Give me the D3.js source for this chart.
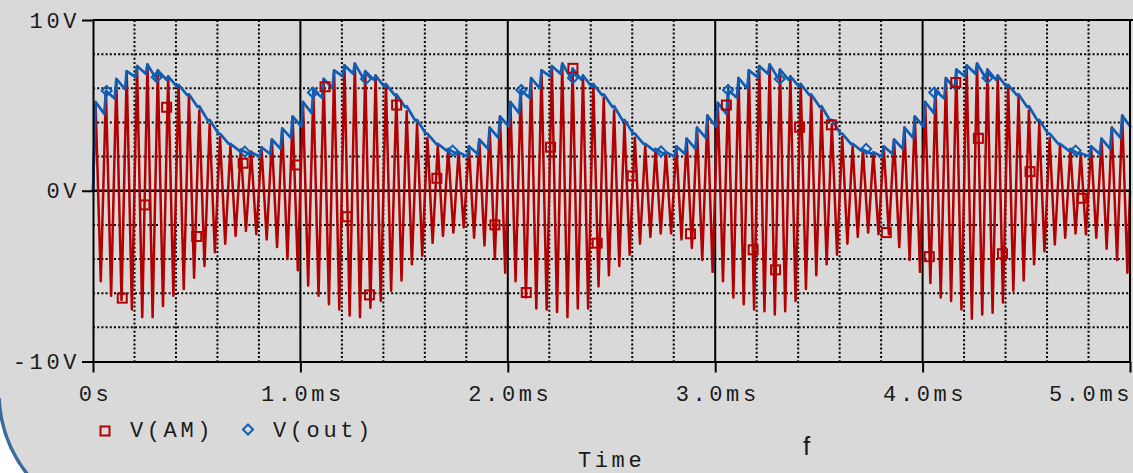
<!DOCTYPE html>
<html>
<head>
<meta charset="utf-8">
<script src="https://cdn.jsdelivr.net/npm/d3@7"></script>
<style>
  body { margin: 0; background: #ffffff; }
  svg { display: block; }
</style>
</head>
<body>
<div id="grafico"></div>
<script>
// Tamaño de la ventana y del area de trazado
const w = 1133;
const h = 473;
const izq = 93, der = 1130, arriba = 20, abajo = 361.5;

// Ejes
const tMin = 0, tMax = 5;        // ms
const vMin = -10, vMax = 10;     // V
const yTicks = [-10, 0, 10];
const xTicks = [0, 1, 2, 3, 4, 5];
const xTickLabels = ['0s', '1.0ms', '2.0ms', '3.0ms', '4.0ms', '5.0ms'];

// Portadora de 20 kHz: un pico y un valle cada 0.05 ms
const periodo = 0.05;

// V(AM): valores de los picos (uno por ciclo, 20 ciclos por ms)
const amPeaks = [
  5.1, 5.8, 6.5, 7.0, 7.3, 7.4, 7.05, 6.7, 6.2, 5.5, 4.7, 3.9, 3.15, 2.6, 2.4, 2.3, 2.55, 3.0, 3.65, 4.35,
  5.2, 5.9, 6.55, 7.05, 7.35, 7.45, 7.0, 6.75, 6.25, 5.5, 4.65, 3.9, 3.1, 2.65, 2.45, 2.25, 2.6, 3.0, 3.7, 4.35,
  5.2, 5.9, 6.6, 7.05, 7.3, 7.45, 7.15, 6.75, 6.25, 5.45, 4.7, 3.95, 3.1, 2.6, 2.45, 2.25, 2.6, 3.05, 3.7, 4.4,
  5.15, 5.85, 6.6, 7.05, 7.3, 7.4, 7.1, 6.7, 6.25, 5.5, 4.75, 3.9, 3.15, 2.6, 2.4, 2.25, 2.6, 3.0, 3.7, 4.35,
  5.2, 5.85, 6.6, 7.1, 7.35, 7.45, 7.1, 6.75, 6.2, 5.5, 4.7, 3.9, 3.1, 2.65, 2.45, 2.2, 2.6, 3.05, 3.7, 4.4
];
// V(AM): valores de los valles
const amTroughs = [
  -5.3, -6.15, -6.4, -6.95, -7.4, -7.4, -6.75, -6.15, -5.75, -5.1, -4.4, -3.6, -3.1, -2.65, -2.35, -2.55, -2.85, -3.3, -4.0, -4.65,
  -5.55, -6.15, -6.65, -6.95, -7.3, -7.4, -6.85, -6.45, -5.85, -5.25, -4.3, -3.8, -3.05, -2.65, -2.45, -2.15, -2.75, -3.2, -4.0, -4.8,
  -5.3, -6.25, -6.9, -6.95, -7.1, -7.4, -6.9, -6.9, -5.6, -4.95, -4.4, -3.75, -3.1, -2.7, -2.5, -2.5, -2.85, -3.35, -4.05, -4.75,
  -5.3, -6.25, -6.65, -6.95, -7.05, -7.25, -7.05, -6.45, -5.75, -4.95, -4.3, -3.75, -3.1, -2.7, -2.45, -2.55, -2.55, -3.3, -4.05, -4.75,
  -5.4, -6.25, -6.45, -6.95, -7.5, -7.25, -7.15, -6.55, -5.85, -5.25, -4.3, -3.55, -3.15, -2.75, -2.5, -2.55, -2.75, -3.4, -4.05, -4.8
];
const amStart = 0, amEnd = 0;

// V(out): valor en cada pico de la portadora y valor justo antes del siguiente pico
const outPeaks = [
  5.2, 5.85, 6.55, 7.0, 7.3, 7.4, 7.05, 6.7, 6.2, 5.65, 4.95, 4.15, 3.35, 2.75, 2.4, 2.25, 2.55, 3.0, 3.65, 4.35,
  5.2, 5.9, 6.55, 7.05, 7.35, 7.45, 7.0, 6.75, 6.25, 5.65, 4.95, 4.15, 3.35, 2.75, 2.45, 2.25, 2.6, 3.0, 3.7, 4.35,
  5.2, 5.9, 6.6, 7.05, 7.3, 7.45, 7.15, 6.75, 6.25, 5.65, 4.95, 4.15, 3.35, 2.75, 2.45, 2.25, 2.6, 3.05, 3.7, 4.4,
  5.15, 5.9, 6.6, 7.05, 7.3, 7.4, 7.1, 6.7, 6.25, 5.65, 4.95, 4.15, 3.35, 2.75, 2.4, 2.25, 2.6, 3.0, 3.7, 4.35,
  5.2, 5.85, 6.6, 7.1, 7.35, 7.45, 7.1, 6.75, 6.2, 5.65, 4.95, 4.15, 3.35, 2.75, 2.45, 2.2, 2.6, 3.05, 3.7, 4.4
];
const outDips = [
  4.5, 5.4, 5.95, 6.65, 6.85, 6.55, 6.5, 6.1, 5.6, 4.9, 4.1, 3.35, 2.75, 2.35, 2.15, 2.0, 2.15, 2.45, 3.1, 3.75,
  4.55, 5.45, 6.0, 6.7, 6.85, 6.55, 6.5, 6.1, 5.6, 4.9, 4.1, 3.35, 2.75, 2.35, 2.15, 2.0, 2.15, 2.45, 3.1, 3.75,
  4.55, 5.45, 6.0, 6.7, 6.85, 6.6, 6.5, 6.1, 5.6, 4.9, 4.1, 3.35, 2.75, 2.35, 2.15, 2.0, 2.15, 2.45, 3.1, 3.75,
  4.5, 5.45, 6.0, 6.65, 6.85, 6.55, 6.5, 6.1, 5.6, 4.9, 4.1, 3.35, 2.75, 2.35, 2.15, 2.0, 2.15, 2.45, 3.1, 3.75,
  4.55, 5.4, 6.0, 6.7, 6.85, 6.6, 6.5, 6.1, 5.6, 4.9, 4.1, 3.35, 2.75, 2.35, 2.15, 2.0, 2.15, 2.45, 3.1, 3.7
];
const outStart = 0;

// Marcadores (tiempo ms, voltaje)
const amMarkers = [
  [0.141, -6.29], [0.250, -0.83], [0.355, 4.89], [0.500, -2.68], [0.724, 1.61], [0.981, 1.51],
  [1.119, 6.09], [1.225, -1.52], [1.333, -6.10], [1.464, 5.02], [1.658, 0.73], [1.938, -2.0],
  [2.089, -5.96], [2.206, 2.55], [2.314, 7.17], [2.431, -3.07], [2.600, 0.87], [2.881, -2.52],
  [3.054, 5.02], [3.183, -3.46], [3.291, -4.63], [3.407, 3.72], [3.560, 3.86], [3.825, -2.45],
  [4.032, -3.86], [4.160, 6.34], [4.269, 3.07], [4.385, -3.69], [4.518, 1.12], [4.767, -0.44]
];
const outMarkers = [
  [0.066, 5.85], [0.307, 6.65], [0.732, 2.29],
  [1.060, 5.75], [1.316, 6.55], [1.734, 2.35],
  [2.065, 5.9], [2.314, 6.6], [2.739, 2.3],
  [3.062, 5.9], [3.311, 6.55], [3.728, 2.45],
  [4.056, 5.75], [4.313, 6.6], [4.738, 2.35]
];

// Series de leyenda
const legendNames = ['V(AM)', 'V(out)'];
const rojo = '#b30000';
const azul = '#105eb4';

// Escalas
const xScale = d3.scaleLinear().domain([tMin, tMax]).range([izq, der]);
const yScale = d3.scaleLinear().domain([vMin, vMax]).range([abajo, arriba]);

// Construir los vertices de cada serie
const amData = [[0, amStart]];
amPeaks.forEach(function (p, k) {
  amData.push([k * periodo + periodo / 4, p]);
  amData.push([k * periodo + 3 * periodo / 4, amTroughs[k]]);
});
amData.push([tMax, amEnd]);

const outData = [[0, outStart]];
outPeaks.forEach(function (p, k) {
  outData.push([k * periodo + periodo / 4, p]);
  outData.push([k * periodo + periodo / 4 + periodo * 0.84, outDips[k]]);
});

const svg = d3.select('#grafico')
  .append('svg')
  .attr('width', w)
  .attr('height', h);

// Fondo gris con la esquina curva
svg.append('path')
  .attr('d', 'M0,0 H' + w + ' V' + h + ' H28 A134,134 0 0 1 0,403 Z')
  .attr('fill', '#d9d9d9');
svg.append('path')
  .attr('d', 'M28,' + (h + 2) + ' A134,134 0 0 1 -1,398')
  .attr('fill', 'none')
  .attr('stroke', '#3d6a9c')
  .attr('stroke-width', 3.5);

// Rejilla punteada
const gridX = xScale.ticks(25).filter(d => Math.abs(d - Math.round(d)) > 1e-6);
const gridY = yScale.ticks(10).filter(d => d !== 0 && Math.abs(d) !== 10);

svg.append('g').selectAll('line')
  .data(gridX)
  .enter()
  .append('line')
  .attr('x1', d => xScale(d)).attr('x2', d => xScale(d))
  .attr('y1', arriba).attr('y2', abajo)
  .attr('stroke', '#000').attr('stroke-width', 2)
  .attr('stroke-dasharray', '2,2.2');

svg.append('g').selectAll('line')
  .data(gridY)
  .enter()
  .append('line')
  .attr('x1', izq).attr('x2', der)
  .attr('y1', d => yScale(d)).attr('y2', d => yScale(d))
  .attr('stroke', '#000').attr('stroke-width', 2)
  .attr('stroke-dasharray', '2,2.2');

// Rejilla solida (cada ms y 0 V)
svg.append('g').selectAll('line')
  .data(xTicks.slice(1, -1))
  .enter()
  .append('line')
  .attr('x1', d => xScale(d)).attr('x2', d => xScale(d))
  .attr('y1', arriba).attr('y2', abajo)
  .attr('stroke', '#000').attr('stroke-width', 2);

svg.append('line')
  .attr('x1', izq).attr('x2', der)
  .attr('y1', yScale(0)).attr('y2', yScale(0))
  .attr('stroke', '#000').attr('stroke-width', 2.4);

// Curvas
const linea = d3.line()
  .x(d => xScale(d[0]))
  .y(d => yScale(d[1]));

svg.append('path')
  .datum(amData)
  .attr('fill', 'none')
  .attr('stroke', rojo)
  .attr('stroke-width', 2.5)
  .attr('stroke-linejoin', 'round')
  .attr('d', linea);

svg.append('path')
  .datum(outData)
  .attr('fill', 'none')
  .attr('stroke', azul)
  .attr('stroke-width', 2.7)
  .attr('stroke-linejoin', 'round')
  .attr('d', linea);

// Marcadores
svg.append('g').selectAll('rect')
  .data(amMarkers)
  .enter()
  .append('rect')
  .attr('x', d => xScale(d[0]) - 4.5)
  .attr('y', d => yScale(d[1]) - 4.5)
  .attr('width', 9).attr('height', 9)
  .attr('fill', 'none').attr('stroke', rojo).attr('stroke-width', 2);

const diamante = 'M0,-5 L5,0 L0,5 L-5,0 Z';
svg.append('g').selectAll('path')
  .data(outMarkers)
  .enter()
  .append('path')
  .attr('transform', d => 'translate(' + xScale(d[0]) + ',' + yScale(d[1]) + ')')
  .attr('d', diamante)
  .attr('fill', 'none').attr('stroke', azul).attr('stroke-width', 2);

// Marco superior y derecho
svg.append('line')
  .attr('x1', izq).attr('x2', w).attr('y1', arriba).attr('y2', arriba)
  .attr('stroke', '#000').attr('stroke-width', 2);
svg.append('line')
  .attr('x1', der).attr('x2', der).attr('y1', arriba).attr('y2', abajo)
  .attr('stroke', '#000').attr('stroke-width', 2);

const fuente = '"Liberation Mono", "Courier New", monospace';

// Eje Y
const ejeY = svg.append('g')
  .attr('transform', 'translate(' + izq + ',0)')
  .call(d3.axisLeft(yScale).tickValues(yTicks).tickSize(11).tickSizeOuter(0).tickPadding(2)
    .tickFormat(d => d + 'V'));
ejeY.select('.domain').attr('stroke-width', 2);
ejeY.selectAll('line').attr('stroke-width', 2);
ejeY.selectAll('text')
  .style('font-family', fuente).style('font-size', '22px')
  .style('letter-spacing', '3.6px').attr('fill', '#1a1a1a');

// Eje X
const ejeX = svg.append('g')
  .attr('transform', 'translate(0,' + abajo + ')')
  .call(d3.axisBottom(xScale).tickValues(xTicks).tickSize(11).tickSizeOuter(0).tickPadding(13)
    .tickFormat((d, i) => xTickLabels[i]));
ejeX.select('.domain').attr('stroke-width', 2);
ejeX.selectAll('line').attr('stroke-width', 2);
ejeX.selectAll('text')
  .attr('dx', '2')
  .style('font-family', fuente).style('font-size', '22px')
  .style('letter-spacing', '3.6px').attr('fill', '#1a1a1a');
// La ultima etiqueta se ajusta al borde derecho, como en el original
ejeX.selectAll('.tick')
  .filter(d => d === tMax)
  .select('text')
  .attr('text-anchor', 'end')
  .attr('dx', w - der - 0.5);

// Leyenda
svg.append('rect')
  .attr('x', 100.5).attr('y', 426.5).attr('width', 9).attr('height', 9)
  .attr('fill', 'none').attr('stroke', rojo).attr('stroke-width', 2);
svg.append('text')
  .attr('x', 130).attr('y', 437)
  .style('font-family', fuente).style('font-size', '22px').style('letter-spacing', '3.6px')
  .attr('fill', '#1a1a1a')
  .text(legendNames[0]);
svg.append('path')
  .attr('transform', 'translate(248,429.5)')
  .attr('d', diamante)
  .attr('fill', 'none').attr('stroke', azul).attr('stroke-width', 2);
svg.append('text')
  .attr('x', 273).attr('y', 437)
  .style('font-family', fuente).style('font-size', '22px').style('letter-spacing', '3.6px')
  .attr('fill', '#1a1a1a')
  .text(legendNames[1]);

// Titulo del eje X
svg.append('text')
  .attr('x', 578).attr('y', 467)
  .style('font-family', fuente).style('font-size', '22px').style('letter-spacing', '3.6px')
  .attr('fill', '#1a1a1a')
  .text('Time');

svg.append('text')
  .attr('x', 803).attr('y', 455)
  .style('font-family', '"Liberation Sans", Arial, sans-serif').style('font-size', '26px')
  .attr('fill', '#1a1a1a')
  .text('f');
</script>
</body>
</html>
